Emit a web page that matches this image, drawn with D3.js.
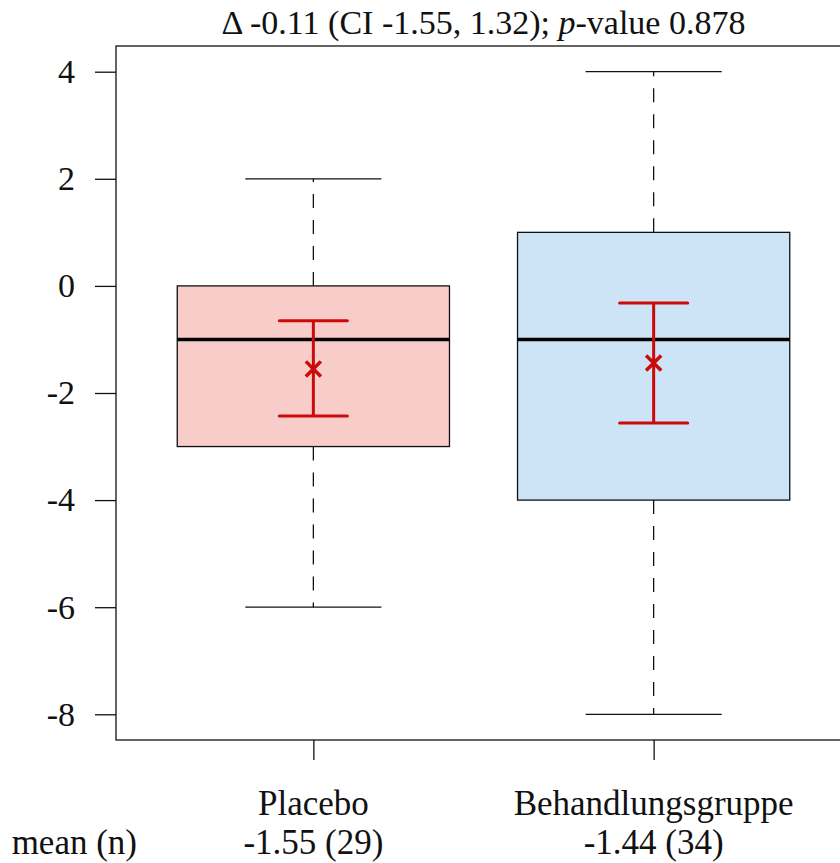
<!DOCTYPE html>
<html>
<head>
<meta charset="utf-8">
<script src="https://cdn.jsdelivr.net/npm/d3@7"></script>
<style>
  body { margin: 0; background: #fff; }
  text { font-family: "Liberation Serif", "DejaVu Serif", serif; fill: #111; }
</style>
</head>
<body>
<div id="chart"></div>
<script>
const groups = ['Placebo', 'Behandlungsgruppe'];
const whiskerLow = [-6, -8];
const boxLow = [-3, -4];
const medians = [-1, -1];
const boxHigh = [0, 1];
const whiskerHigh = [2, 4];
const means = [-1.55, -1.44];
const ciLow = [-2.43, -2.56];
const ciHigh = [-0.65, -0.32];
const counts = [29, 34];
const yTicks = [-8, -6, -4, -2, 0, 2, 4];
const title = '-0.11 (CI -1.55, 1.32); ';
const fills = ['#f8cdc9', '#cde3f6'];

const width = 840, height = 863;
const margin = {top: 46, right: -11, bottom: 123, left: 116};
const innerW = width - margin.left - margin.right;
const innerH = height - margin.top - margin.bottom;

const svg = d3.select('#chart')
  .append('svg')
    .attr('width', width)
    .attr('height', height);

const g = svg.append('g')
  .attr('transform', 'translate(' + margin.left + ',' + margin.top + ')');

// R style: 4% padding on both axes
const x = d3.scaleLinear()
  .domain([0.42, 2.58])
  .range([0, innerW]);
const y = d3.scaleLinear()
  .domain([-8.48, 4.48])
  .range([innerH, 0]);

const data = groups.map((name, i) => ({
  name, i,
  pos: i + 1,
  wl: whiskerLow[i], q1: boxLow[i], med: medians[i], q3: boxHigh[i], wh: whiskerHigh[i],
  mean: means[i], lo: ciLow[i], hi: ciHigh[i], n: counts[i]
}));

const hyphen = s => s.replace('\u2212', '-');

// whiskers
const dash = '14,12';
g.selectAll('.wup').data(data).join('line')
  .attr('x1', d => x(d.pos)).attr('x2', d => x(d.pos))
  .attr('y1', d => y(d.q3)).attr('y2', d => y(d.wh))
  .attr('stroke', '#111').attr('stroke-width', 1.3).attr('stroke-dasharray', dash);
g.selectAll('.wdn').data(data).join('line')
  .attr('x1', d => x(d.pos)).attr('x2', d => x(d.pos))
  .attr('y1', d => y(d.q1)).attr('y2', d => y(d.wl))
  .attr('stroke', '#111').attr('stroke-width', 1.3).attr('stroke-dasharray', dash);
['wh', 'wl'].forEach(k => {
  g.selectAll('.cap-' + k).data(data).join('line')
    .attr('x1', d => x(d.pos - 0.2)).attr('x2', d => x(d.pos + 0.2))
    .attr('y1', d => y(d[k])).attr('y2', d => y(d[k]))
    .attr('stroke', '#111').attr('stroke-width', 1.3);
});

// boxes
g.selectAll('rect.box').data(data).join('rect')
  .attr('class', 'box')
  .attr('x', d => x(d.pos - 0.4))
  .attr('width', d => x(d.pos + 0.4) - x(d.pos - 0.4))
  .attr('y', d => y(d.q3))
  .attr('height', d => y(d.q1) - y(d.q3))
  .attr('fill', d => fills[d.i])
  .attr('stroke', '#111').attr('stroke-width', 1.3);

g.selectAll('.median').data(data).join('line')
  .attr('x1', d => x(d.pos - 0.4)).attr('x2', d => x(d.pos + 0.4))
  .attr('y1', d => y(d.med)).attr('y2', d => y(d.med))
  .attr('stroke', '#000').attr('stroke-width', 3.5);

// mean and CI
const red = '#cc0a0a';
g.selectAll('.ci').data(data).join('line')
  .attr('x1', d => x(d.pos)).attr('x2', d => x(d.pos))
  .attr('y1', d => y(d.lo)).attr('y2', d => y(d.hi))
  .attr('stroke', red).attr('stroke-width', 3);
['lo', 'hi'].forEach(k => {
  g.selectAll('.ci-' + k).data(data).join('line')
    .attr('x1', d => x(d.pos - 0.1)).attr('x2', d => x(d.pos + 0.1))
    .attr('y1', d => y(d[k])).attr('y2', d => y(d[k]))
    .attr('stroke', red).attr('stroke-width', 3).attr('stroke-linecap', 'round');
});
g.selectAll('.mean').data(data).join('path')
  .attr('d', d3.symbol(d3.symbolTimes, 150))
  .attr('transform', d => 'translate(' + x(d.pos) + ',' + y(d.mean) + ')')
  .attr('fill', 'none').attr('stroke', red).attr('stroke-width', 3.5);

// frame
g.append('rect')
  .attr('width', innerW).attr('height', innerH)
  .attr('fill', 'none').attr('stroke', '#111').attr('stroke-width', 1.3);

// y axis
const yAxis = g.append('g')
  .call(d3.axisLeft(y).tickValues(yTicks).tickSize(21).tickPadding(20)
    .tickFormat(d => hyphen(d3.format('d')(d))));
yAxis.select('.domain').remove();
yAxis.selectAll('line').attr('stroke', '#111').attr('stroke-width', 1.3);
yAxis.selectAll('text').style('font-size', '34px').attr('fill', '#111')
  .attr('font-family', null);

// x axis ticks
const xAxis = g.append('g')
  .attr('transform', 'translate(0,' + innerH + ')')
  .call(d3.axisBottom(x).tickValues(data.map(d => d.pos)).tickSize(20).tickFormat(''));
xAxis.select('.domain').remove();
xAxis.selectAll('line').attr('stroke', '#111').attr('stroke-width', 1.3);

// group labels
g.selectAll('.glab').data(data).join('text')
  .attr('x', d => x(d.pos)).attr('y', innerH + 75)
  .attr('text-anchor', 'middle').style('font-size', '35px')
  .text(d => d.name);
g.selectAll('.mlab').data(data).join('text')
  .attr('x', d => x(d.pos)).attr('y', innerH + 114)
  .attr('text-anchor', 'middle').style('font-size', '35px')
  .text(d => hyphen(d3.format('.2f')(d.mean)) + ' (' + d.n + ')');
svg.append('text')
  .attr('x', 137).attr('y', margin.top + innerH + 114)
  .attr('text-anchor', 'end').style('font-size', '35px')
  .text('mean (n)');

// title
const t = svg.append('text')
  .attr('x', margin.left + x(1.5)).attr('y', 34)
  .attr('text-anchor', 'middle').style('font-size', '34px');
t.append('tspan').text('\u0394 ' + title);
t.append('tspan').style('font-style', 'italic').text('p');
t.append('tspan').text('-value 0.878');
</script>
</body>
</html>
